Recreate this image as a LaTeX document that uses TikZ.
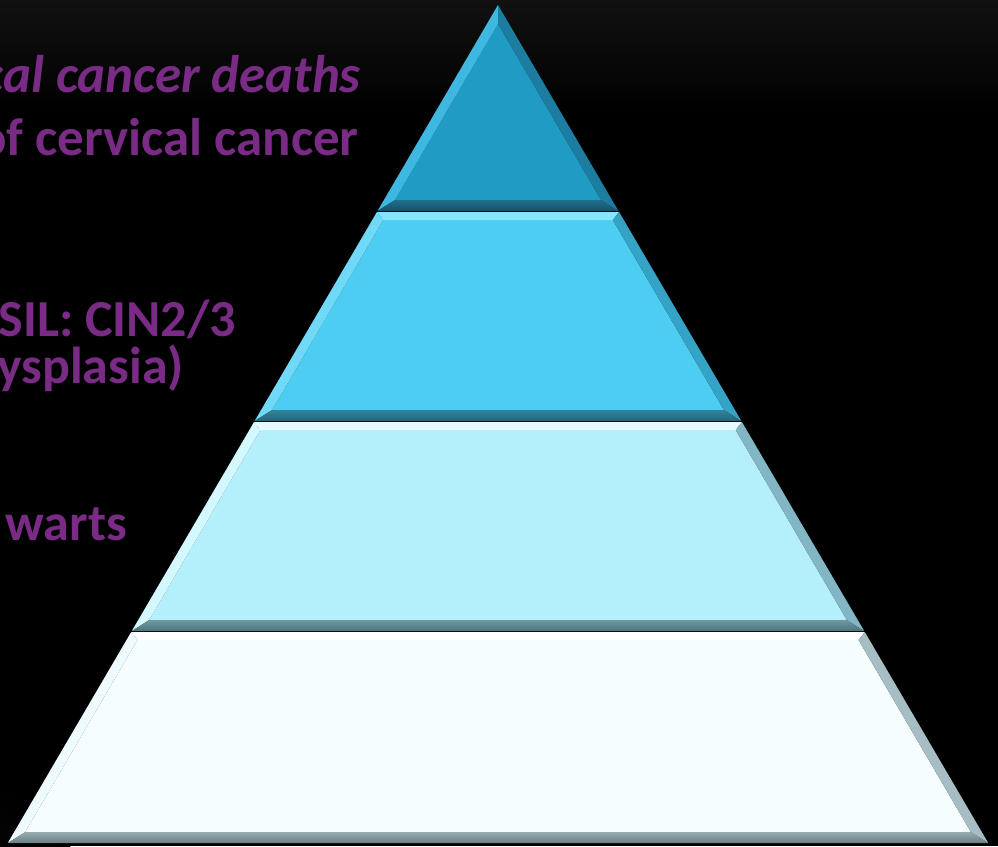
\documentclass[tikz,border=0pt]{standalone}
\usepackage{fontspec}
\setmainfont{Carlito}
\definecolor{txtpurple}{RGB}{122,43,133}
\definecolor{bgTop}{RGB}{17,17,17}
\definecolor{bgCorner}{RGB}{30,30,30}
% tier 1
\definecolor{aMain}{RGB}{31,155,196}
\definecolor{aTop}{RGB}{70,190,228}
\definecolor{aLeft}{RGB}{62,184,224}
\definecolor{aRight}{RGB}{28,125,160}
\definecolor{aBotT}{RGB}{32,112,140}
\definecolor{aBotB}{RGB}{18,80,102}
% tier 2
\definecolor{bMain}{RGB}{78,205,243}
\definecolor{bTop}{RGB}{135,228,252}
\definecolor{bLeft}{RGB}{112,217,247}
\definecolor{bRight}{RGB}{52,163,197}
\definecolor{bBotT}{RGB}{52,132,157}
\definecolor{bBotB}{RGB}{35,100,122}
% tier 3
\definecolor{cMain}{RGB}{180,239,252}
\definecolor{cTop}{RGB}{228,252,255}
\definecolor{cLeft}{RGB}{212,248,255}
\definecolor{cRight}{RGB}{130,182,196}
\definecolor{cBotT}{RGB}{112,152,162}
\definecolor{cBotB}{RGB}{78,115,125}
% tier 4
\definecolor{dMain}{RGB}{245,253,254}
\definecolor{dTop}{RGB}{255,255,255}
\definecolor{dLeft}{RGB}{238,250,253}
\definecolor{dRight}{RGB}{165,189,195}
\definecolor{dBotT}{RGB}{152,172,177}
\definecolor{dBotB}{RGB}{105,125,130}
\tikzset{
  labeltext/.style={text=txtpurple,font=\fontsize{52}{62}\selectfont\bfseries,anchor=base east,inner sep=0pt},
  biglabel/.style={labeltext,font=\fontsize{53}{63}\selectfont\bfseries}
}
\newcommand{\pyrtier}[3]{% #1 ytop, #2 ybot, #3 colour prefix
  \pgfmathsetmacro{\myS}{0.585}%
  \pgfmathsetmacro{\myH}{11}%
  \pgfmathsetmacro{\myDt}{8}%
  \pgfmathsetmacro{\myDb}{11}%
  \pgfmathsetmacro{\tlx}{498-\myS*(#1-5)}%
  \pgfmathsetmacro{\trx}{498+\myS*(#1-5)}%
  \pgfmathsetmacro{\blx}{498-\myS*(#2-5)}%
  \pgfmathsetmacro{\brx}{498+\myS*(#2-5)}%
  \pgfmathsetmacro{\ity}{max(#1+\myDt,5+\myH/\myS)}%
  \pgfmathsetmacro{\iby}{#2-\myDb}%
  \pgfmathsetmacro{\itlx}{min(498,498-\myS*(\ity-5)+\myH)}%
  \pgfmathsetmacro{\itrx}{max(498,498+\myS*(\ity-5)-\myH)}%
  \pgfmathsetmacro{\iblx}{498-\myS*(\iby-5)+\myH}%
  \pgfmathsetmacro{\ibrx}{498+\myS*(\iby-5)-\myH}%
  \fill[#3Main] (\itlx,\ity) -- (\itrx,\ity) -- (\ibrx,\iby) -- (\iblx,\iby) -- cycle;
  \fill[#3Top] (\tlx,#1) -- (\trx,#1) -- (\itrx,\ity) -- (\itlx,\ity) -- cycle;
  \fill[#3Left] (\tlx,#1) -- (\itlx,\ity) -- (\iblx,\iby) -- (\blx,#2) -- cycle;
  \fill[#3Right] (\trx,#1) -- (\itrx,\ity) -- (\ibrx,\iby) -- (\brx,#2) -- cycle;
  \shade[top color=#3BotT,bottom color=#3BotB] (\blx,#2) -- (\iblx,\iby) -- (\ibrx,\iby) -- (\brx,#2) -- cycle;
}
\begin{document}
\begin{tikzpicture}[x=1pt,y=-1pt]
\useasboundingbox (0,0) rectangle (998,846);
\clip (0,0) rectangle (998,846);
% background: black with a faint grey band at the top and a faint glow at bottom left
\fill[black] (0,0) rectangle (998,846);
\shade[top color=bgTop,bottom color=black] (0,0) rectangle (998,115);
\shade[inner color=bgCorner,outer color=black] (-260,1106) circle (420);
% pyramid tiers
\pyrtier{5}{211}{a}
\pyrtier{212}{421}{b}
\pyrtier{422}{631}{c}
\pyrtier{632}{843}{d}
% labels (cut off at the left edge)
\node[biglabel,font=\fontsize{53}{63}\selectfont\bfseries\itshape] (l1) at (361,92) {cal cancer deaths};
\node[biglabel] (l2) at (359,155) {of cervical cancer};
\node[labeltext] (l3) at (236,336) {SIL: CIN2/3};
\node[labeltext] (l4) at (184,383) {ysplasia)};
\node[labeltext] (l5) at (127,540) {warts};
\end{tikzpicture}
\end{document}
